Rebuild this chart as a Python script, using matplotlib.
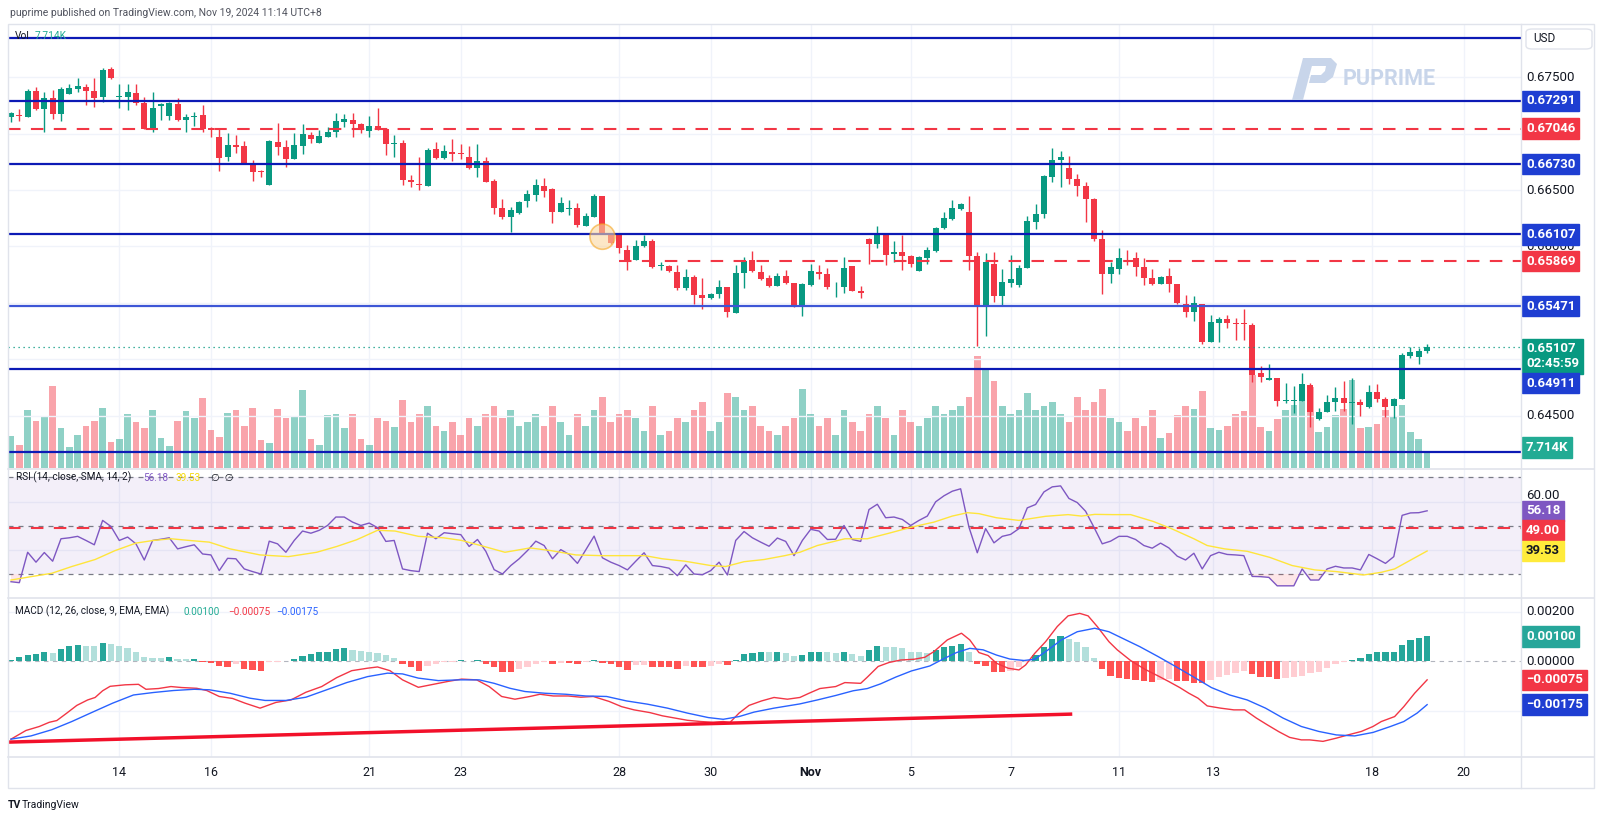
import matplotlib
matplotlib.use('Agg')
import matplotlib.pyplot as plt
import numpy as np
from matplotlib.patches import Ellipse, Rectangle, Polygon, FancyBboxPatch
from matplotlib.transforms import blended_transform_factory as blend

plt.rcParams['font.family'] = ['Roboto', 'DejaVu Sans']

# ---- AUDUSD 4H candles (index 0 = first candle) ----
OPEN = [
    0.67152, 0.67167, 0.67152, 0.67380, 0.67220, 0.67315, 0.67179, 0.67356, 0.67401, 0.67418,
    0.67380, 0.67327, 0.67575, 0.67327, 0.67327, 0.67365, 0.67276, 0.67043, 0.67244, 0.67161,
    0.67268, 0.67126, 0.67149, 0.67167, 0.67055, 0.66972, 0.66792, 0.66901, 0.66892, 0.66738,
    0.66670, 0.66549, 0.66925, 0.66883, 0.66777, 0.66892, 0.66993, 0.66922, 0.66969, 0.67016,
    0.67108, 0.67123, 0.67084, 0.67025, 0.67072, 0.67043, 0.66907, 0.66922, 0.66590, 0.66555,
    0.66537, 0.66862, 0.66783, 0.66839, 0.66833, 0.66794, 0.66700, 0.66762, 0.66581, 0.66345,
    0.66265, 0.66295, 0.66404, 0.66457, 0.66537, 0.66508, 0.66303, 0.66333, 0.66339, 0.66185,
    0.66265, 0.66448, 0.66123, 0.66102, 0.65969, 0.65878, 0.66005, 0.66049, 0.65827, 0.65827,
    0.65777, 0.65635, 0.65733, 0.65570, 0.65541, 0.65576, 0.65638, 0.65408, 0.65762, 0.65881,
    0.65777, 0.65718, 0.65653, 0.65739, 0.65680, 0.65473, 0.65659, 0.65777, 0.65757, 0.65647,
    0.65644, 0.65828, 0.65606, 0.66067, 0.66020, 0.66108, 0.65934, 0.65952, 0.65916, 0.65786,
    0.65901, 0.65961, 0.66168, 0.66245, 0.66333, 0.66304, 0.65916, 0.65473, 0.65842, 0.65564,
    0.65680, 0.65659, 0.65813, 0.66221, 0.66289, 0.66620, 0.66768, 0.66694, 0.66596, 0.66537,
    0.66422, 0.66067, 0.65757, 0.65801, 0.65901, 0.65896, 0.65822, 0.65718, 0.65668, 0.65739,
    0.65665, 0.65490, 0.65422, 0.65490, 0.65156, 0.65319, 0.65360, 0.65319, 0.65319, 0.65304,
    0.64875, 0.64816, 0.64831, 0.64633, 0.64633, 0.64633, 0.64772, 0.64470, 0.64535, 0.64618,
    0.64659, 0.64612, 0.64618, 0.64579, 0.64712, 0.64647, 0.64585, 0.64644, 0.65032, 0.65023,
    0.65076]
HIGH = [
    0.67197, 0.67217, 0.67395, 0.67418, 0.67374, 0.67389, 0.67418, 0.67442, 0.67492, 0.67442,
    0.67498, 0.67587, 0.67596, 0.67442, 0.67442, 0.67439, 0.67324, 0.67374, 0.67271, 0.67285,
    0.67318, 0.67173, 0.67197, 0.67256, 0.67064, 0.67043, 0.67010, 0.66990, 0.66933, 0.66768,
    0.66679, 0.66945, 0.67099, 0.66945, 0.67010, 0.67087, 0.67019, 0.67037, 0.67064, 0.67182,
    0.67173, 0.67188, 0.67093, 0.67158, 0.67226, 0.67049, 0.66987, 0.66945, 0.66635, 0.66797,
    0.66877, 0.66930, 0.66901, 0.66951, 0.66907, 0.66892, 0.66913, 0.66791, 0.66596, 0.66422,
    0.66354, 0.66407, 0.66502, 0.66599, 0.66605, 0.66516, 0.66437, 0.66413, 0.66383, 0.66295,
    0.66463, 0.66448, 0.66123, 0.66111, 0.66014, 0.66058, 0.66102, 0.66067, 0.65866, 0.65833,
    0.65836, 0.65801, 0.65748, 0.65718, 0.65591, 0.65703, 0.65644, 0.65836, 0.65910, 0.65960,
    0.65836, 0.65748, 0.65762, 0.65792, 0.65680, 0.65674, 0.65842, 0.65836, 0.65813, 0.65689,
    0.65910, 0.65828, 0.65650, 0.66079, 0.66182, 0.66108, 0.66052, 0.66103, 0.65925, 0.65916,
    0.65999, 0.66176, 0.66310, 0.66413, 0.66383, 0.66449, 0.65955, 0.65940, 0.65955, 0.65798,
    0.65925, 0.65836, 0.66274, 0.66378, 0.66635, 0.66871, 0.66848, 0.66803, 0.66644, 0.66570,
    0.66434, 0.66147, 0.65860, 0.65984, 0.65969, 0.65955, 0.65896, 0.65798, 0.65742, 0.65813,
    0.65668, 0.65570, 0.65561, 0.65490, 0.65393, 0.65372, 0.65393, 0.65363, 0.65443, 0.65319,
    0.64943, 0.64958, 0.64837, 0.64786, 0.64766, 0.64875, 0.64786, 0.64565, 0.64683, 0.64751,
    0.64807, 0.64831, 0.64647, 0.64772, 0.64780, 0.64668, 0.64653, 0.65052, 0.65106, 0.65097,
    0.65132]
LOW = [
    0.67108, 0.67114, 0.67146, 0.67211, 0.67013, 0.67129, 0.67114, 0.67356, 0.67368, 0.67256,
    0.67238, 0.67279, 0.67489, 0.67232, 0.67211, 0.67256, 0.67040, 0.67019, 0.67123, 0.67123,
    0.67114, 0.67019, 0.67070, 0.67013, 0.66975, 0.66670, 0.66762, 0.66827, 0.66729, 0.66582,
    0.66620, 0.66549, 0.66812, 0.66709, 0.66774, 0.66818, 0.66922, 0.66922, 0.66969, 0.66975,
    0.67064, 0.66975, 0.67004, 0.66975, 0.67034, 0.66812, 0.66797, 0.66546, 0.66525, 0.66502,
    0.66537, 0.66774, 0.66774, 0.66759, 0.66774, 0.66691, 0.66620, 0.66576, 0.66286, 0.66244,
    0.66132, 0.66289, 0.66354, 0.66407, 0.66442, 0.66212, 0.66303, 0.66280, 0.66170, 0.66182,
    0.66265, 0.66117, 0.66023, 0.65940, 0.65792, 0.65878, 0.65999, 0.65813, 0.65792, 0.65771,
    0.65615, 0.65615, 0.65490, 0.65443, 0.65532, 0.65547, 0.65372, 0.65408, 0.65629, 0.65777,
    0.65700, 0.65644, 0.65653, 0.65665, 0.65467, 0.65387, 0.65653, 0.65712, 0.65621, 0.65556,
    0.65591, 0.65609, 0.65541, 0.65842, 0.65984, 0.65836, 0.65866, 0.65792, 0.65822, 0.65786,
    0.65842, 0.65955, 0.66153, 0.66236, 0.66324, 0.65792, 0.65118, 0.65207, 0.65505, 0.65473,
    0.65638, 0.65638, 0.65813, 0.66156, 0.66250, 0.66570, 0.66525, 0.66555, 0.66451, 0.66221,
    0.66049, 0.65576, 0.65674, 0.65754, 0.65836, 0.65742, 0.65659, 0.65659, 0.65665, 0.65600,
    0.65490, 0.65372, 0.65342, 0.65135, 0.65156, 0.65156, 0.65280, 0.65171, 0.65171, 0.64801,
    0.64801, 0.64816, 0.64585, 0.64615, 0.64526, 0.64633, 0.64402, 0.64461, 0.64529, 0.64544,
    0.64544, 0.64423, 0.64497, 0.64565, 0.64624, 0.64491, 0.64476, 0.64644, 0.65014, 0.64961,
    0.65052]
CLOSE = [
    0.67182, 0.67161, 0.67380, 0.67220, 0.67321, 0.67179, 0.67398, 0.67407, 0.67421, 0.67383,
    0.67321, 0.67566, 0.67495, 0.67339, 0.67368, 0.67271, 0.67040, 0.67232, 0.67262, 0.67276,
    0.67123, 0.67149, 0.67158, 0.67046, 0.67031, 0.66789, 0.66901, 0.66886, 0.66732, 0.66661,
    0.66661, 0.66933, 0.66883, 0.66777, 0.66901, 0.66996, 0.66954, 0.66981, 0.67019, 0.67117,
    0.67129, 0.67090, 0.67043, 0.67070, 0.67040, 0.66907, 0.66916, 0.66590, 0.66576, 0.66543,
    0.66856, 0.66783, 0.66848, 0.66824, 0.66818, 0.66700, 0.66762, 0.66576, 0.66345, 0.66259,
    0.66324, 0.66398, 0.66466, 0.66546, 0.66496, 0.66309, 0.66389, 0.66339, 0.66191, 0.66271,
    0.66448, 0.66117, 0.66028, 0.65984, 0.65881, 0.66005, 0.66049, 0.65822, 0.65833, 0.65783,
    0.65629, 0.65733, 0.65570, 0.65541, 0.65579, 0.65638, 0.65416, 0.65765, 0.65872, 0.65783,
    0.65709, 0.65653, 0.65739, 0.65680, 0.65473, 0.65665, 0.65786, 0.65757, 0.65644, 0.65653,
    0.65813, 0.65609, 0.65585, 0.66020, 0.66103, 0.65925, 0.65952, 0.65916, 0.65842, 0.65904,
    0.65969, 0.66168, 0.66250, 0.66339, 0.66378, 0.65916, 0.65473, 0.65866, 0.65564, 0.65683,
    0.65709, 0.65813, 0.66227, 0.66289, 0.66626, 0.66768, 0.66792, 0.66599, 0.66537, 0.66422,
    0.66064, 0.65754, 0.65822, 0.65896, 0.65896, 0.65822, 0.65718, 0.65668, 0.65733, 0.65665,
    0.65496, 0.65422, 0.65496, 0.65156, 0.65327, 0.65360, 0.65325, 0.65310, 0.65310, 0.64860,
    0.64845, 0.64837, 0.64633, 0.64639, 0.64639, 0.64777, 0.64535, 0.64532, 0.64618, 0.64659,
    0.64615, 0.64618, 0.64594, 0.64712, 0.64647, 0.64579, 0.64644, 0.65038, 0.65067, 0.65076,
    0.65107]
# volume in thousands
VOLUME = [
    15.3, 10.9, 27.8, 22.7, 24.9, 39.5, 19.4, 10.1, 15.8, 20.2,
    22.7, 29.1, 12.5, 13.8, 26.2, 22.2, 19.4, 27.8, 14.5, 10.6,
    22.5, 27.3, 24.1, 33.7, 18.2, 14.9, 26.5, 27.8, 20.2, 29.1,
    13.6, 12.1, 28.3, 24.1, 24.6, 37.4, 13.8, 11.2, 25.4, 26.2,
    19.3, 26.2, 14.1, 11.2, 24.1, 22.5, 19.8, 33, 22, 26,
    30, 20, 18, 22, 16, 24, 20, 26, 30, 24,
    28, 20, 22, 26, 20, 30, 22, 16, 26, 20,
    28, 34, 22, 26, 28, 24, 18, 30, 16, 18,
    24, 22, 28, 32, 18, 22, 36, 34, 28, 30,
    20, 18, 16, 20, 24, 38, 26, 20, 24, 16,
    28, 22, 18, 26, 30, 24, 16, 28, 22, 20,
    24, 30, 26, 28, 30, 34, 54, 48, 42, 30,
    26, 28, 36, 28, 30, 32, 26, 22, 34, 28,
    32, 38, 24, 22, 18, 24, 20, 28.1, 14.5, 16.9,
    25.4, 29.9, 28.6, 37.1, 19.4, 18.2, 20.2, 25.9, 27.5, 45.0,
    19.8, 17.8, 23.8, 28.1, 30.5, 39.4, 39.0, 17.4, 19.8, 25.7,
    28.3, 42.6, 19.4, 19.8, 21.1, 27.8, 24.6, 30.2, 17.4, 14.1,
    7.714]

RSI = [
    26.8, 26.4, 39.0, 34.9, 38.9, 35.3, 44.6, 45.0, 45.6, 43.9,
    42.1, 52.2, 49.7, 43.9, 45.3, 42.5, 35.8, 43.9, 44.4, 45.0,
    40.4, 41.3, 42.1, 38.3, 37.9, 31.4, 36.5, 36.3, 32.1, 31.0,
    30.0, 43.6, 42.5, 39.0, 43.9, 47.8, 46.9, 48.1, 50.1, 53.6,
    53.6, 51.5, 50.1, 51.1, 49.2, 43.5, 43.9, 32.1, 31.4, 31.0,
    46.9, 44.6, 47.1, 46.7, 46.3, 41.4, 44.3, 39.4, 31.8, 30.0,
    33.5, 36.3, 39.7, 43.6, 41.8, 36.3, 40.1, 38.1, 34.4, 40.0,
    45.7, 36.7, 34.9, 33.5, 31.7, 35.3, 38.8, 33.5, 33.1, 32.4,
    29.3, 33.8, 30.0, 29.7, 31.4, 34.9, 29.6, 43.9, 47.6, 45.0,
    43.2, 41.5, 44.9, 43.5, 37.6, 43.9, 48.5, 47.8, 44.3, 44.4,
    50.1, 44.3, 43.5, 56.7, 58.9, 53.3, 53.6, 52.6, 50.1, 52.2,
    54.0, 59.9, 62.4, 64.3, 65.3, 49.4, 38.8, 48.8, 42.9, 45.6,
    46.4, 48.8, 57.4, 58.8, 64.0, 66.1, 66.5, 61.3, 59.6, 56.0,
    49.4, 42.5, 43.6, 45.6, 45.6, 44.3, 41.8, 40.7, 42.8, 40.8,
    37.4, 35.8, 38.6, 32.1, 37.6, 39.0, 38.1, 37.9, 37.6, 29.0,
    28.9, 28.6, 25.1, 25.1, 25.1, 32.1, 27.5, 27.5, 32.1, 33.2,
    32.5, 32.5, 31.7, 38.1, 36.3, 34.4, 37.2, 54.3, 55.3, 55.4,
    56.18]
# RSI-based SMA, read at points along the yellow line
RSI_MA_X = [0, 2.4, 4.9, 7.3, 10.1, 12.5, 15.0, 17.1, 19.2, 21.4, 23.8, 26.3, 29.9, 33.3, 36.7,
            39.1, 41.5, 44.0, 46.1, 48.9, 51.9, 54.1, 56.8, 59.3, 62.3, 64.8, 67.8, 70.9, 73.9, 76.1,
            78.2, 80.9, 84.0, 85.8, 88.0, 90.4, 92.9, 94.7, 96.8, 100.1, 102.8, 105.4, 108.1, 110.8,
            113.0, 114.8, 116.2, 118.3, 121.0, 124.2, 126.9, 128.5, 130.1, 132.3, 134.4, 137.1,
            139.3, 142.0, 143.6, 145.7, 148.4, 151.1, 153.8, 156.5, 159.1, 162.4, 164.5, 166.1,
            168.3, 170]
RSI_MA_Y = [27.5, 28.9, 30.3, 33.1, 36.0, 39.7, 42.8, 43.9, 44.6, 43.9, 43.2, 40.4, 37.9, 37.2, 39.0,
            41.4, 44.2, 48.1, 47.8, 45.6, 45.0, 43.9, 41.4, 39.0, 40.8, 39.7, 37.9, 37.6, 37.6, 37.6,
            36.3, 35.3, 33.5, 33.1, 35.1, 36.0, 37.6, 39.0, 41.8, 44.6, 44.6, 46.9, 49.4, 51.5,
            54.0, 55.4, 55.0, 53.3, 52.2, 53.9, 54.6, 54.0, 54.7, 54.6, 54.6, 51.8,
            48.8, 44.6, 41.8, 40.4, 39.4, 36.9, 33.5, 31.7, 31.0, 29.6, 30.7, 32.1,
            36.3, 39.53]

# MACD line (drawn red) and signal line (drawn blue), read at points
MACD_X = [0.0, 1.8, 3.4, 4.6, 5.5, 6.7, 7.9, 9.2, 10.1, 11.0, 11.9, 13.7, 15.3, 16.2, 17.7, 19.2,
          20.5, 22.3, 23.5, 25.0, 26.6, 28.1, 29.9, 31.8, 33.6, 35.4, 37.3, 39.1, 40.9, 42.8, 44.0,
          45.5, 47.0, 48.9, 50.7, 52.5, 54.1, 55.9, 57.4, 58.9, 60.5, 62.3, 63.5, 65.1, 66.9, 68.4,
          69.9, 71.8, 73.3, 74.8, 76.7, 78.2, 79.7, 81.2, 82.8, 84.3, 85.5, 86.3, 87.4, 88.6, 90.1,
          91.6, 93.2, 94.7, 95.8, 97.1, 99.0, 100.1, 102.0, 102.8, 104.1, 105.4, 106.8, 108.4,
          109.7, 110.8, 112.4, 114.1, 115.1, 116.2, 117.3, 118.3, 119.7, 121.0, 121.8, 122.9,
          124.2, 125.6, 126.9, 128.3, 129.3, 130.4, 131.8, 132.8, 134.4, 136.1, 137.7, 139.0,
          140.3, 141.4, 142.5, 143.6, 145.2, 146.8, 148.1, 149.5, 150.8, 152.2, 153.5, 154.9,
          155.9, 157.5, 159.1, 160.5, 162.1, 163.5, 164.5, 166.1, 167.2, 168.5, 170]
MACD_Y = [-0.00314, -0.00279, -0.00263, -0.00246, -0.00239, -0.00209, -0.00178, -0.00156, -0.00146,
          -0.00119, -0.00101, -0.00095, -0.00093, -0.00113, -0.00110, -0.00102, -0.00106, -0.00109,
          -0.00118, -0.00142, -0.00150, -0.00169, -0.00189, -0.00166, -0.00156, -0.00125, -0.00102,
          -0.00066, -0.00038, -0.00028, -0.00023, -0.00038, -0.00075, -0.00105, -0.00093, -0.00081,
          -0.00072, -0.00075, -0.00102, -0.00142, -0.00153, -0.00142, -0.00133, -0.00140, -0.00140,
          -0.00145, -0.00142, -0.00162, -0.00183, -0.00196, -0.00207, -0.00220, -0.00229, -0.00238,
          -0.00243, -0.00246, -0.00243, -0.00247, -0.00209, -0.00178, -0.00160, -0.00146, -0.00153,
          -0.00146, -0.00129, -0.00110, -0.00102, -0.00086, -0.00089, -0.00064, -0.00021, -0.00005,
          0.00005, 0.00008, 0.00016, 0.00039, 0.00086, 0.00113, 0.00086, 0.00035, 0.00023, -0.00008,
          -0.00028, -0.00035, -0.00015, 0.00032, 0.00079, 0.00140, 0.00183, 0.00193, 0.00183,
          0.00140, 0.00079, 0.00046, 0.00003, -0.00032, -0.00059, -0.00082, -0.00106, -0.00129,
          -0.00149, -0.00180, -0.00189, -0.00196, -0.00196, -0.00229, -0.00256, -0.00284, -0.00307,
          -0.00317, -0.00317, -0.00323, -0.00310, -0.00297, -0.00283, -0.00263, -0.00243, -0.00223,
          -0.00183, -0.00129, -0.00075]
SIGNAL_X = [0, 2.4, 4.9, 7.3, 9.8, 12.2, 14.7, 17.1, 19.5, 22.0, 23.8, 26.3, 28.7, 30.5, 33.0, 35.4,
            37.9, 40.3, 42.8, 45.2, 47.0, 48.9, 51.3, 53.8, 56.2, 58.0, 59.9, 61.7, 64.1, 66.6, 69.0,
            71.5, 73.9, 76.4, 78.8, 81.2, 83.7, 85.5, 87.4, 89.2, 91.6, 94.7, 96.8, 99.0, 101.1,
            102.8, 104.4, 106.2, 108.1, 110.3, 111.9, 113.5, 115.1, 116.7, 118.3, 119.9, 121.6,
            122.9, 124.5, 126.1, 128.0, 130.1, 131.8, 133.4, 135.5, 137.7, 139.8, 142.0, 144.1,
            146.3, 148.4, 150.6, 152.7, 154.9, 157.0, 159.1, 161.3, 163.5, 165.6, 167.2, 168.8, 170]
SIGNAL_Y = [-0.00314, -0.00301, -0.00276, -0.00243, -0.00205, -0.00169, -0.00136, -0.00126, -0.00118,
            -0.00113, -0.00115, -0.00129, -0.00149, -0.00158, -0.00158, -0.00145, -0.00115, -0.00086,
            -0.00062, -0.00048, -0.00051, -0.00068, -0.00078, -0.00075, -0.00075, -0.00089, -0.00109,
            -0.00122, -0.00129, -0.00133, -0.00140, -0.00142, -0.00160, -0.00173, -0.00189, -0.00209,
            -0.00227, -0.00234, -0.00223, -0.00205, -0.00189, -0.00172, -0.00156, -0.00138, -0.00119,
            -0.00110, -0.00091, -0.00064, -0.00039, -0.00019, 0.00009, 0.00035, 0.00052, 0.00046,
            0.00025, 0.00009, 0.00003, 0.00008, 0.00046, 0.00086, 0.00119, 0.00133, 0.00119, 0.00093,
            0.00059, 0.00019, -0.00021, -0.00064, -0.00106, -0.00136, -0.00156, -0.00189, -0.00229,
            -0.00263, -0.00283, -0.00297, -0.00301, -0.00287, -0.00263, -0.00243, -0.00209, -0.00175]
HIST = [
    0.00007, 0.00016, 0.00025, 0.00028, 0.00039, 0.00035, 0.00050, 0.00062, 0.00064, 0.00063,
    0.00062, 0.00072, 0.00071, 0.00062, 0.00052, 0.00039, 0.00019, 0.00015, 0.00013, 0.00016,
    0.00009, 0.00008, 0.00008, -0.00001, -0.00007, -0.00021, -0.00025, -0.00011, -0.00032, -0.00036,
    -0.00038, -0.00005, -0.00003, 0.00001, 0.00009, 0.00021, 0.00030, 0.00036, 0.00039, 0.00050,
    0.00052, 0.00046, 0.00043, 0.00039, 0.00035, 0.00024, 0.00012, -0.00011, -0.00024, -0.00039,
    -0.00021, -0.00011, -0.00005, -0.00001, 0.00004, 0.00001, 0.00004, -0.00011, -0.00024, -0.00042,
    -0.00044, -0.00030, -0.00024, -0.00013, -0.00005, -0.00011, -0.00007, -0.00007, -0.00013, -0.00003,
    0.00004, -0.00007, -0.00013, -0.00024, -0.00035, -0.00017, -0.00016, -0.00024, -0.00024, -0.00024,
    -0.00032, -0.00021, -0.00024, -0.00024, -0.00021, -0.00013, -0.00016, 0.00005, 0.00028, 0.00035,
    0.00039, 0.00036, 0.00039, 0.00032, 0.00021, 0.00025, 0.00036, 0.00039, 0.00036, 0.00032,
    0.00039, 0.00030, 0.00021, 0.00046, 0.00063, 0.00059, 0.00058, 0.00052, 0.00039, 0.00036,
    0.00035, 0.00046, 0.00056, 0.00063, 0.00068, 0.00039, -0.00011, -0.00019, -0.00042, -0.00044,
    -0.00038, -0.00024, -0.00001, 0.00025, 0.00059, 0.00089, 0.00102, 0.00089, 0.00079, 0.00059,
    0.00015, -0.00032, -0.00059, -0.00068, -0.00071, -0.00075, -0.00078, -0.00082, -0.00075, -0.00071,
    -0.00078, -0.00078, -0.00086, -0.00086, -0.00075, -0.00064, -0.00055, -0.00048, -0.00038, -0.00052,
    -0.00064, -0.00064, -0.00072, -0.00068, -0.00064, -0.00059, -0.00048, -0.00044, -0.00028, -0.00013,
    -0.00001, 0.00005, 0.00012, 0.00028, 0.00036, 0.00036, 0.00039, 0.00066, 0.00086, 0.00094,
    0.00100]

# drawings
BLUE_LEVELS = [0.67851, 0.67291, 0.66730, 0.66107, 0.65471, 0.64911, 0.64181]
RED_LEVELS = [0.67046, 0.65869]
RED_LEVEL_START = [None, 73]
TREND_X = [-0.36, 127.4]
TREND_Y = [-0.00326, -0.00213]
MARK_X, MARK_Y = 71, 0.66087
LAST_PRICE = 0.65107

TICK_X = [13, 24, 43, 54, 73, 84, 96, 108, 120, 133, 144.3, 163.4, 174.4]
TICK_LABELS = ['14', '16', '21', '23', '28', '30', 'Nov', '5', '7', '11', '13', '18', '20']
PRICE_GRID = [0.675, 0.670, 0.665, 0.660, 0.655, 0.650, 0.645]
# price scale labels that are not covered by a tag
PRICE_LABELS = [0.675, 0.665, 0.660, 0.645]

UP = '#089981'
DOWN = '#F23645'
TAG_BLUE = '#1E3ED2'
GRID = '#F0F3FA'
TEXT = '#131722'
BORDER = '#E0E3EB'
W, H = 1600, 819
XLIM = (-0.36, 181.27)

fig = plt.figure(figsize=(W / 100, H / 100), dpi=100)
fig.patch.set_facecolor('white')


def fx(px):
    return px / W


def fy(py):
    return 1 - py / H


def pane(top, bottom):
    a = fig.add_axes([fx(8), fy(bottom), fx(1521) - fx(8), (bottom - top) / H])
    a.set_facecolor('none')
    a.set_xlim(*XLIM)
    for s in a.spines.values():
        s.set_visible(False)
    a.set_xticks([])
    a.set_yticks([])
    return a


def axis_text(a, value, text, color=TEXT, dy=0):
    a.annotate(text, xy=(fx(1526), value), xycoords=blend(fig.transFigure, a.transData),
               xytext=(0, dy), textcoords='offset pixels', ha='left', va='center',
               fontsize=9.5, color=color, zorder=15, annotation_clip=False)


def tag(a, value, text, fc, tc='white', dy=0):
    a.annotate(text, xy=(fx(1526), value), xycoords=blend(fig.transFigure, a.transData),
               xytext=(0, dy), textcoords='offset pixels', ha='left', va='center',
               fontsize=9.5, fontweight='bold', color=tc, linespacing=1.15,
               bbox=dict(boxstyle='square,pad=0.28', fc=fc, ec=fc),
               annotation_clip=False, zorder=20)


idx = np.arange(len(CLOSE))
o, h, l, c = (np.array(v) for v in (OPEN, HIGH, LOW, CLOSE))
col = np.where(c >= o, UP, DOWN)

# ---- main pane: volume underneath, price on top ----
axv = pane(23.5, 468)
axv.set_ylim(0, 214.2)
for t in TICK_X:
    axv.axvline(t, color=GRID, lw=1, zorder=0)
axv.bar(idx, VOLUME, width=0.8, color=col, alpha=0.45, lw=0, zorder=2)

ax = pane(23.5, 468)
ax.set_ylim(0.64035, 0.67978)
for p in PRICE_GRID:
    ax.axhline(p, color=GRID, lw=1, zorder=0.5)
ax.vlines(idx, l, h, colors=col, lw=1, zorder=3)
ax.bar(idx, np.maximum(np.abs(c - o), 0.000012), bottom=np.minimum(o, c), width=0.72,
       color=col, lw=0, zorder=4)

for lev in BLUE_LEVELS:
    lc = '#3D56D6' if lev == 0.65471 else '#0C1AB5'
    ax.axhline(lev, color=lc, lw=1.6, zorder=6)
for lev, start in zip(RED_LEVELS, RED_LEVEL_START):
    x0 = XLIM[0] if start is None else start
    ax.hlines(lev, x0, XLIM[1], color=DOWN, lw=1.5, ls=(0, (6, 5)), zorder=6)
ax.axhline(LAST_PRICE, color=UP, lw=0.9, ls=(0, (1, 3)), zorder=6)
ax.add_patch(Ellipse((MARK_X, MARK_Y), 3.0, 0.00224, fc='#FAD7A0', ec='#F5A623',
                     alpha=0.6, lw=1.2, zorder=7))

for p in PRICE_LABELS:
    axis_text(ax, p, f'{p:.5f}')
tag(ax, 0.67291, '0.67291', TAG_BLUE)
tag(ax, 0.67046, '0.67046', DOWN)
tag(ax, 0.66730, '0.66730', TAG_BLUE)
tag(ax, 0.66107, '0.66107', TAG_BLUE)
tag(ax, 0.65869, '0.65869', DOWN)
tag(ax, 0.65471, '0.65471', TAG_BLUE)
tag(ax, LAST_PRICE, '0.65107\n02:45:59', UP, dy=-9)
tag(ax, 0.64911, '0.64911', TAG_BLUE, dy=-14)
tag(ax, 0.64181, '7.714K', '#22AB94', dy=4)

# ---- RSI pane ----
axr = pane(469, 597)
axr.set_ylim(20.47, 73.5)
for t in TICK_X:
    axr.axvline(t, color=GRID, lw=1, zorder=0)
for v in (60, 40):
    axr.axhline(v, color=GRID, lw=1, zorder=0)
axr.axhspan(30, 70, color='#7E57C2', alpha=0.09, lw=0, zorder=0.5)
for v in (70, 50, 30):
    axr.axhline(v, color='#787B86', lw=0.9, ls=(0, (4, 4)), zorder=1)
axr.axhline(49, color=DOWN, lw=1.5, ls=(0, (6, 5)), zorder=2)
rsi = np.array(RSI)
axr.fill_between(idx, rsi, 30, where=rsi < 30, interpolate=True, color=DOWN, alpha=0.12, lw=0)
axr.plot(idx, rsi, color='#7E57C2', lw=1, zorder=3)
axr.plot(RSI_MA_X, RSI_MA_Y, color='#FFE53B', lw=1, zorder=3)
axis_text(axr, 60, '60.00', dy=6)
tag(axr, 56.18, '56.18', '#7E57C2')
tag(axr, 49.0, '49.00', DOWN, dy=-2)
tag(axr, 39.53, '39.53', '#FFEB3B', tc=TEXT)

# ---- MACD pane ----
axm = pane(598, 757)
axm.set_ylim(-0.00386, 0.00255)
for t in TICK_X:
    axm.axvline(t, color=GRID, lw=1, zorder=0)
for v in (0.002, -0.002):
    axm.axhline(v, color=GRID, lw=1, zorder=0)
axm.axhline(0, color='#B2B5BE', lw=0.8, ls=(0, (4, 4)), zorder=1)
hist = np.array(HIST)
prev = np.concatenate([[hist[0]], hist[:-1]])
hcol = np.where(hist >= 0, np.where(hist >= prev, '#26A69A', '#B2DFDB'),
                np.where(hist <= prev, '#FF5252', '#FFCDD2'))
axm.bar(idx, hist, width=0.75, color=hcol, lw=0, zorder=2)
axm.plot(MACD_X, MACD_Y, color=DOWN, lw=1, zorder=3)
axm.plot(SIGNAL_X, SIGNAL_Y, color='#2962FF', lw=1, zorder=3)
axm.plot(TREND_X, TREND_Y, color='#F2102A', lw=2.5, solid_capstyle='butt', zorder=4)
axis_text(axm, 0.002, '0.00200')
axis_text(axm, 0.0, '0.00000')
tag(axm, 0.001, '0.00100', '#26A69A')
tag(axm, -0.00075, '\u22120.00075', DOWN)
tag(axm, -0.00175, '\u22120.00175', TAG_BLUE)

# ---- time axis ----
tr = blend(axm.transData, fig.transFigure)
for t, lab in zip(TICK_X, TICK_LABELS):
    fig.text(t, fy(773), lab, transform=tr, ha='center', va='center', fontsize=9,
             color=TEXT, fontweight='bold' if lab == 'Nov' else 'normal')

# ---- frame, separators ----
fig.add_artist(Rectangle((fx(8), fy(788)), fx(1594) - fx(8), (788 - 23.5) / H,
                         transform=fig.transFigure, fill=False, ec=BORDER, lw=1))
for yy in (468.5, 597.5, 757):
    fig.add_artist(plt.Line2D([fx(8), fx(1594)], [fy(yy), fy(yy)], color=BORDER, lw=1.2))
fig.add_artist(plt.Line2D([fx(1521), fx(1521)], [fy(23.5), fy(788)], color=BORDER, lw=1))
fig.add_artist(FancyBboxPatch((fx(1526), fy(49)), fx(66), 20 / H, boxstyle='round,pad=0,rounding_size=0.004',
                              transform=fig.transFigure, fc='white', ec=BORDER, lw=1))
fig.text(fx(1533), fy(39), 'USD', fontsize=8.5, color=TEXT, va='center')

# ---- legends and captions ----
fig.text(fx(10), fy(13), 'puprime published on TradingView.com, Nov 19, 2024 11:14 UTC+8',
         fontsize=7.5, color='#50535E', va='center')
fig.text(fx(15), fy(36), 'Vol', fontsize=7.3, color=TEXT, va='center')
fig.text(fx(35), fy(36), '7.714K', fontsize=7.3, color='#22AB94', va='center')

fig.text(fx(16), fy(477.5), 'RSI (14, close, SMA, 14, 2)', fontsize=7.2, color=TEXT, va='center')
fig.text(fx(143), fy(477.5), '56.18', fontsize=7.2, color='#7E57C2', va='center')
fig.text(fx(175), fy(477.5), '39.53', fontsize=7.2, color='#F5D90A', va='center')
fig.text(fx(211), fy(477.5), '\u2205  \u2205', fontsize=7.2, color=TEXT, va='center')

fig.text(fx(15), fy(611.7), 'MACD (12, 26, close, 9, EMA, EMA)', fontsize=7.2, color=TEXT, va='center')
fig.text(fx(184), fy(611.7), '0.00100', fontsize=7.2, color='#22AB94', va='center')
fig.text(fx(228), fy(611.7), '\u22120.00075', fontsize=7.2, color=DOWN, va='center')
fig.text(fx(276), fy(611.7), '\u22120.00175', fontsize=7.2, color='#2962FF', va='center')

fig.text(fx(8), fy(805), 'TV', fontsize=7.5, color=TEXT, fontweight='bold', va='center')
fig.text(fx(22), fy(805), 'TradingView', fontsize=7.5, color=TEXT, va='center')

# PUPRIME watermark
wm = '#C8D5EA'
stem = [(1292, 100), (1303, 100), (1314, 58), (1303, 58)]
bowl = [(1306, 58), (1331, 58), (1337, 64), (1333, 77), (1325, 83), (1309, 83),
        (1311, 75), (1321, 75), (1325, 71), (1326, 66), (1304, 66)]
for shape in (stem, bowl):
    fig.add_artist(Polygon([(fx(x), fy(y)) for x, y in shape], closed=True,
                           transform=fig.transFigure, fc=wm, ec='none'))
fig.text(fx(1343), fy(79), 'PUPRIME', fontsize=15.5, fontweight='bold', color=wm, va='center')

fig.savefig('out.png', dpi=100)
